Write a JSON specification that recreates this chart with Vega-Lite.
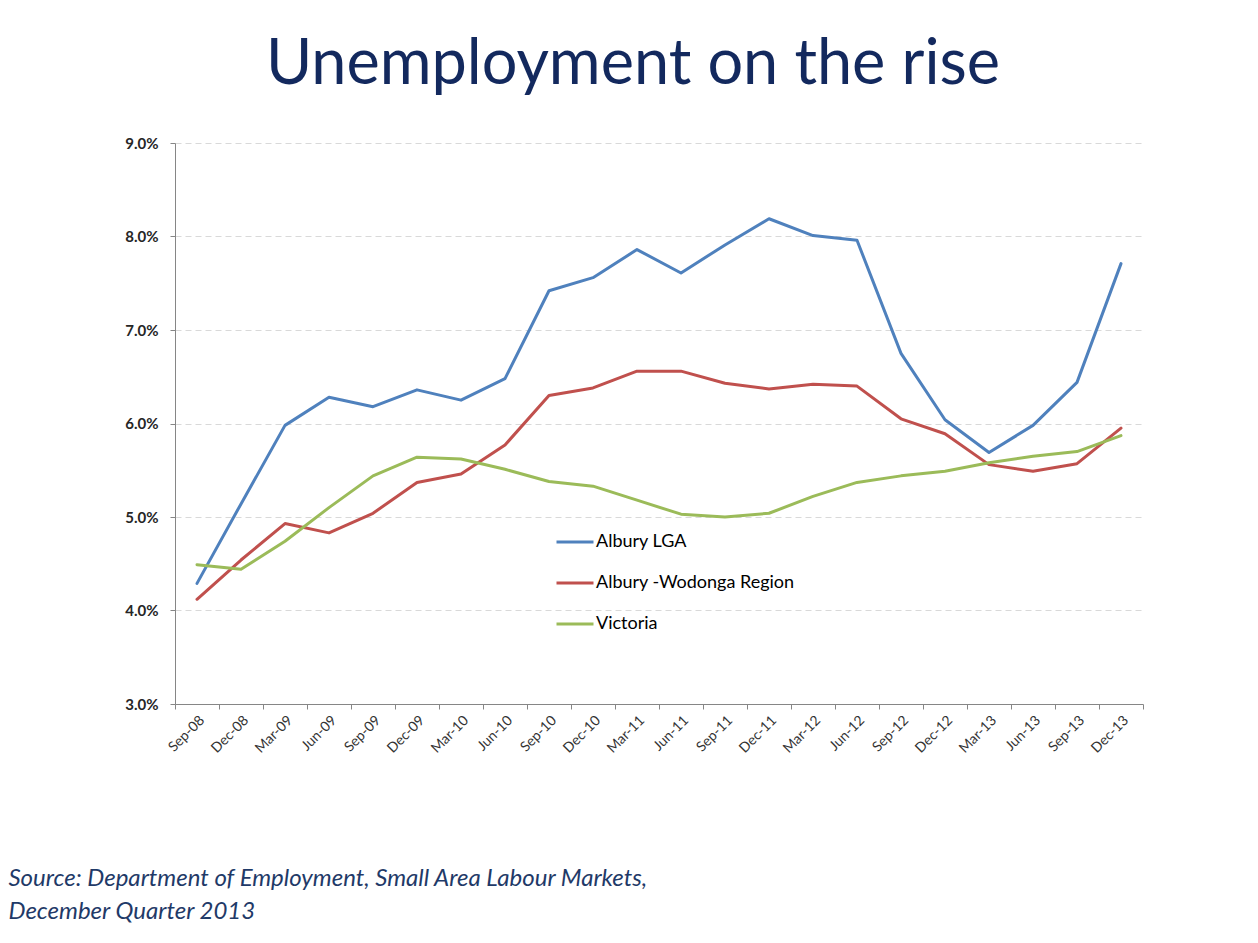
{
  "$schema": "https://vega.github.io/schema/vega-lite/v6.json",
  "width": 968,
  "height": 561,
  "autosize": "none",
  "padding": {"left": 175, "top": 143, "right": 115, "bottom": 239},
  "background": "white",
  "config": {
    "font": "Lato",
    "view": {"stroke": null}
  },
  "title": {
    "text": "Unemployment on the rise",
    "font": "Lato",
    "fontSize": 63,
    "fontWeight": "normal",
    "color": "#13295E",
    "anchor": "middle",
    "frame": "group",
    "dx": -26,
    "offset": 39
  },
  "datasets": {
    "rates": [
      {"q": "Sep-08", "series": "Albury LGA", "rate": 0.0429},
      {"q": "Dec-08", "series": "Albury LGA", "rate": 0.0514},
      {"q": "Mar-09", "series": "Albury LGA", "rate": 0.0598},
      {"q": "Jun-09", "series": "Albury LGA", "rate": 0.0628},
      {"q": "Sep-09", "series": "Albury LGA", "rate": 0.0618},
      {"q": "Dec-09", "series": "Albury LGA", "rate": 0.0636},
      {"q": "Mar-10", "series": "Albury LGA", "rate": 0.0625},
      {"q": "Jun-10", "series": "Albury LGA", "rate": 0.0648},
      {"q": "Sep-10", "series": "Albury LGA", "rate": 0.0742},
      {"q": "Dec-10", "series": "Albury LGA", "rate": 0.0756},
      {"q": "Mar-11", "series": "Albury LGA", "rate": 0.0786},
      {"q": "Jun-11", "series": "Albury LGA", "rate": 0.0761},
      {"q": "Sep-11", "series": "Albury LGA", "rate": 0.0791},
      {"q": "Dec-11", "series": "Albury LGA", "rate": 0.0819},
      {"q": "Mar-12", "series": "Albury LGA", "rate": 0.0801},
      {"q": "Jun-12", "series": "Albury LGA", "rate": 0.0796},
      {"q": "Sep-12", "series": "Albury LGA", "rate": 0.0675},
      {"q": "Dec-12", "series": "Albury LGA", "rate": 0.0604},
      {"q": "Mar-13", "series": "Albury LGA", "rate": 0.0569},
      {"q": "Jun-13", "series": "Albury LGA", "rate": 0.0598},
      {"q": "Sep-13", "series": "Albury LGA", "rate": 0.0644},
      {"q": "Dec-13", "series": "Albury LGA", "rate": 0.0771},
      {"q": "Sep-08", "series": "Albury -Wodonga Region", "rate": 0.0412},
      {"q": "Dec-08", "series": "Albury -Wodonga Region", "rate": 0.0454},
      {"q": "Mar-09", "series": "Albury -Wodonga Region", "rate": 0.0493},
      {"q": "Jun-09", "series": "Albury -Wodonga Region", "rate": 0.0483},
      {"q": "Sep-09", "series": "Albury -Wodonga Region", "rate": 0.0504},
      {"q": "Dec-09", "series": "Albury -Wodonga Region", "rate": 0.0537},
      {"q": "Mar-10", "series": "Albury -Wodonga Region", "rate": 0.0546},
      {"q": "Jun-10", "series": "Albury -Wodonga Region", "rate": 0.0577},
      {"q": "Sep-10", "series": "Albury -Wodonga Region", "rate": 0.0630},
      {"q": "Dec-10", "series": "Albury -Wodonga Region", "rate": 0.0638},
      {"q": "Mar-11", "series": "Albury -Wodonga Region", "rate": 0.0656},
      {"q": "Jun-11", "series": "Albury -Wodonga Region", "rate": 0.0656},
      {"q": "Sep-11", "series": "Albury -Wodonga Region", "rate": 0.0643},
      {"q": "Dec-11", "series": "Albury -Wodonga Region", "rate": 0.0637},
      {"q": "Mar-12", "series": "Albury -Wodonga Region", "rate": 0.0642},
      {"q": "Jun-12", "series": "Albury -Wodonga Region", "rate": 0.0640},
      {"q": "Sep-12", "series": "Albury -Wodonga Region", "rate": 0.0605},
      {"q": "Dec-12", "series": "Albury -Wodonga Region", "rate": 0.0589},
      {"q": "Mar-13", "series": "Albury -Wodonga Region", "rate": 0.0556},
      {"q": "Jun-13", "series": "Albury -Wodonga Region", "rate": 0.0549},
      {"q": "Sep-13", "series": "Albury -Wodonga Region", "rate": 0.0557},
      {"q": "Dec-13", "series": "Albury -Wodonga Region", "rate": 0.0595},
      {"q": "Sep-08", "series": "Victoria", "rate": 0.0449},
      {"q": "Dec-08", "series": "Victoria", "rate": 0.0444},
      {"q": "Mar-09", "series": "Victoria", "rate": 0.0474},
      {"q": "Jun-09", "series": "Victoria", "rate": 0.0510},
      {"q": "Sep-09", "series": "Victoria", "rate": 0.0544},
      {"q": "Dec-09", "series": "Victoria", "rate": 0.0564},
      {"q": "Mar-10", "series": "Victoria", "rate": 0.0562},
      {"q": "Jun-10", "series": "Victoria", "rate": 0.0551},
      {"q": "Sep-10", "series": "Victoria", "rate": 0.0538},
      {"q": "Dec-10", "series": "Victoria", "rate": 0.0533},
      {"q": "Mar-11", "series": "Victoria", "rate": 0.0518},
      {"q": "Jun-11", "series": "Victoria", "rate": 0.0503},
      {"q": "Sep-11", "series": "Victoria", "rate": 0.0500},
      {"q": "Dec-11", "series": "Victoria", "rate": 0.0504},
      {"q": "Mar-12", "series": "Victoria", "rate": 0.0522},
      {"q": "Jun-12", "series": "Victoria", "rate": 0.0537},
      {"q": "Sep-12", "series": "Victoria", "rate": 0.0544},
      {"q": "Dec-12", "series": "Victoria", "rate": 0.0549},
      {"q": "Mar-13", "series": "Victoria", "rate": 0.0558},
      {"q": "Jun-13", "series": "Victoria", "rate": 0.0565},
      {"q": "Sep-13", "series": "Victoria", "rate": 0.0570},
      {"q": "Dec-13", "series": "Victoria", "rate": 0.0587}
    ]
  },
  "data": {"name": "rates"},
  "mark": {"type": "line", "strokeWidth": 3, "strokeJoin": "round", "strokeCap": "round"},
  "encoding": {
    "x": {
      "field": "q",
      "type": "ordinal",
      "bandPosition": 0.5,
      "sort": ["Sep-08","Dec-08","Mar-09","Jun-09","Sep-09","Dec-09","Mar-10","Jun-10","Sep-10","Dec-10","Mar-11","Jun-11","Sep-11","Dec-11","Mar-12","Jun-12","Sep-12","Dec-12","Mar-13","Jun-13","Sep-13","Dec-13"],
      "scale": {"type": "band", "paddingInner": 0, "paddingOuter": 0},
      "axis": {
        "title": ["Source: Department of Employment, Small Area Labour Markets,", "December Quarter 2013"],
        "titleFont": "Lato",
        "titleFontSize": 24,
        "titleFontStyle": "italic",
        "titleFontWeight": "normal",
        "titleColor": "#1F3A68",
        "titleAnchor": "start",
        "titleAlign": "left",
        "titleBaseline": "alphabetic",
        "titleLineHeight": 33,
        "titleX": -167,
        "titleY": 181,
        "labelAngle": -45,
        "labelFont": "Lato",
        "labelFontSize": 14,
        "labelColor": "#333333",
        "labelPadding": 4,
        "tickBand": "extent",
        "tickSize": 5,
        "tickColor": "#868686",
        "domainColor": "#868686",
        "grid": false
      }
    },
    "y": {
      "field": "rate",
      "type": "quantitative",
      "scale": {"domain": [0.03, 0.09], "nice": false, "zero": false},
      "axis": {
        "title": null,
        "values": [0.03, 0.04, 0.05, 0.06, 0.07, 0.08, 0.09],
        "format": ".1%",
        "labelFont": "Lato",
        "labelFontSize": 15,
        "labelFontWeight": "bold",
        "labelColor": "#262626",
        "labelPadding": 12,
        "tickSize": 5,
        "tickColor": "#868686",
        "domainColor": "#868686",
        "grid": true,
        "gridColor": "#D9D9D9",
        "gridDash": [6, 4],
        "gridWidth": 1
      }
    },
    "color": {
      "field": "series",
      "type": "nominal",
      "scale": {
        "domain": ["Albury LGA", "Albury -Wodonga Region", "Victoria"],
        "range": ["#4F81BD", "#C0504D", "#9BBB59"]
      },
      "legend": {
        "orient": "none",
        "legendX": 380,
        "legendY": 379,
        "title": null,
        "padding": 0,
        "symbolType": "stroke",
        "symbolStrokeWidth": 3,
        "symbolSize": 1369,
        "labelFont": "Lato",
        "labelFontSize": 18,
        "labelColor": "#000000",
        "labelOffset": 1,
        "labelLimit": 0,
        "rowPadding": 12
      }
    }
  }
}
